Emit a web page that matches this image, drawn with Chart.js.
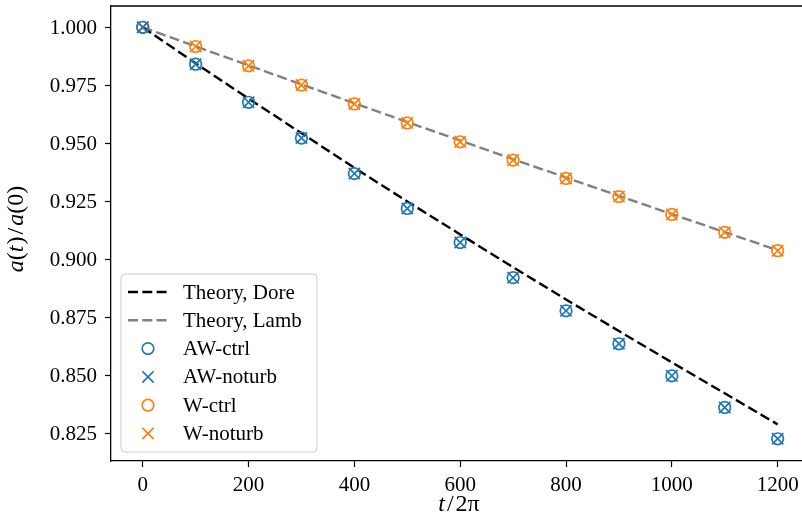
<!DOCTYPE html>
<html lang="en">
<head>
<meta charset="UTF-8">
<title>Amplitude decay a(t)/a(0)</title>
<script src="https://cdn.jsdelivr.net/npm/chart.js"></script>
<style>
  body { margin: 0; background: #fff; }
  .chart-container { width: 802px; height: 528px; }
</style>
</head>
<body>
<div class="chart-container"><canvas id="decayChart"></canvas></div>
<script>
// t / 2pi sample times
const times = [0, 100, 200, 300, 400, 500, 600, 700, 800, 900, 1000, 1100, 1200];

// theory curves
const doreTheory = [1.000, 0.9845, 0.9693, 0.9544, 0.9395, 0.9250, 0.9108, 0.8967, 0.8828, 0.8692, 0.8557, 0.8424, 0.8290];
const lambTheory = [1.000, 0.9918, 0.9836, 0.9754, 0.9673, 0.9592, 0.9512, 0.9432, 0.9353, 0.9274, 0.9196, 0.9118, 0.9040];

// simulation runs
const awCtrl   = [1.000, 0.9841, 0.9677, 0.9523, 0.9370, 0.9220, 0.9073, 0.8922, 0.8779, 0.8637, 0.8499, 0.8363, 0.8228];
const awNoturb = [1.000, 0.9841, 0.9677, 0.9523, 0.9370, 0.9220, 0.9073, 0.8922, 0.8779, 0.8637, 0.8499, 0.8363, 0.8228];
const wCtrl    = [1.000, 0.9917, 0.9834, 0.9751, 0.9670, 0.9588, 0.9507, 0.9428, 0.9349, 0.9271, 0.9194, 0.9117, 0.9038];
const wNoturb  = [1.000, 0.9917, 0.9834, 0.9751, 0.9670, 0.9588, 0.9507, 0.9428, 0.9349, 0.9271, 0.9194, 0.9117, 0.9038];

const xTicks = [0, 200, 400, 600, 800, 1000, 1200];
const yTicks = [0.825, 0.850, 0.875, 0.900, 0.925, 0.950, 0.975, 1.000];

const BLUE = '#1f77b4';
const ORANGE = '#ff7f0e';
const SERIF = "'Liberation Serif', 'Times New Roman', serif";

const pts = ys => times.map((t, i) => ({ x: t, y: ys[i] }));

function lineSet(label, ys, color) {
    return {
        label, data: pts(ys), showLine: true, borderColor: color,
        borderWidth: 2.4, borderDash: [10, 4.3], pointRadius: 0, order: 10,
        kind: 'line'
    };
}
function markerSet(label, ys, color, style, radius) {
    return {
        label, data: pts(ys), showLine: false, pointStyle: style,
        pointRadius: radius, pointHoverRadius: radius,
        pointBorderColor: color, pointBackgroundColor: 'rgba(0,0,0,0)',
        pointBorderWidth: 1.7, borderColor: color, order: 1, kind: 'marker'
    };
}

// draw text made of upright / italic pieces, centred on (0,0)
// each piece: [text, font style, extra space after]
function mixedText(ctx, parts, size) {
    let widths = parts.map(p => { ctx.font = `${p[1]} ${size}px ${SERIF}`; return ctx.measureText(p[0]).width + (p[2] || 0); });
    let total = widths.reduce((a, b) => a + b, 0);
    let x = -total / 2;
    ctx.textBaseline = 'middle';
    ctx.textAlign = 'left';
    parts.forEach((p, i) => {
        ctx.font = `${p[1]} ${size}px ${SERIF}`;
        ctx.fillText(p[0], x, 0);
        x += widths[i];
    });
}

function roundRect(ctx, x, y, w, h, r) {
    ctx.beginPath();
    ctx.moveTo(x + r, y);
    ctx.arcTo(x + w, y, x + w, y + h, r);
    ctx.arcTo(x + w, y + h, x, y + h, r);
    ctx.arcTo(x, y + h, x, y, r);
    ctx.arcTo(x, y, x + w, y, r);
    ctx.closePath();
}

const framePlugin = {
    id: 'frame',
    afterDraw(chart) {
        const ctx = chart.ctx;
        const ca = chart.chartArea;
        const xs = chart.scales.x, ys = chart.scales.y;
        ctx.save();
        // top spine
        ctx.strokeStyle = '#000';
        ctx.lineWidth = 1.3;
        ctx.beginPath();
        ctx.moveTo(ca.left, ca.top);
        ctx.lineTo(chart.width, ca.top);
        ctx.stroke();

        // tick labels
        ctx.fillStyle = '#000';
        ctx.font = `21px ${SERIF}`;
        ctx.textBaseline = 'middle';
        ctx.textAlign = 'center';
        xTicks.forEach(v => ctx.fillText(String(v), xs.getPixelForValue(v), ca.bottom + 24));
        ctx.textAlign = 'right';
        yTicks.forEach(v => ctx.fillText(v.toFixed(3), ca.left - 14, ys.getPixelForValue(v) + 1));

        // axis titles
        ctx.save();
        ctx.translate(459, 505);
        mixedText(ctx, [['t', 'italic', 2], ['/', 'normal', 2], ['2\u03c0', 'normal']], 24);
        ctx.restore();
        ctx.save();
        ctx.translate(17, 229);
        ctx.rotate(-Math.PI / 2);
        mixedText(ctx, [['a', 'italic'], ['(', 'normal'], ['t', 'italic', 1], [')', 'normal', 2], ['/', 'normal', 2],
                        ['a', 'italic'], ['(0)', 'normal']], 24);
        ctx.restore();

        // legend box
        const bw = 196, bh = 178;
        const bx = ca.left + 10, by = ca.bottom - 9 - bh;
        roundRect(ctx, bx, by, bw, bh, 4);
        ctx.fillStyle = 'rgba(255,255,255,0.8)';
        ctx.fill();
        ctx.strokeStyle = '#cccccc';
        ctx.lineWidth = 1;
        ctx.stroke();

        chart.data.datasets.forEach((ds, i) => {
            const cy = by + 18 + i * 28.3;
            ctx.save();
            if (ds.kind === 'line') {
                ctx.strokeStyle = ds.borderColor;
                ctx.lineWidth = ds.borderWidth;
                ctx.setLineDash(ds.borderDash);
                ctx.beginPath();
                ctx.moveTo(bx + 7, cy);
                ctx.lineTo(bx + 47, cy);
                ctx.stroke();
            } else {
                ctx.strokeStyle = ds.pointBorderColor;
                ctx.fillStyle = 'rgba(0,0,0,0)';
                ctx.lineWidth = ds.pointBorderWidth;
                Chart.helpers.drawPoint(ctx, {
                    pointStyle: ds.pointStyle, radius: ds.pointRadius, borderWidth: ds.pointBorderWidth
                }, bx + 27, cy);
            }
            ctx.restore();
            ctx.fillStyle = '#000';
            ctx.font = `21px ${SERIF}`;
            ctx.textAlign = 'left';
            ctx.textBaseline = 'middle';
            ctx.fillText(ds.label, bx + 62, cy + 1);
        });
        ctx.restore();
    }
};

new Chart(document.getElementById('decayChart'), {
    type: 'scatter',
    data: {
        datasets: [
            lineSet('Theory, Dore', doreTheory, '#000000'),
            lineSet('Theory, Lamb', lambTheory, '#808080'),
            markerSet('AW-ctrl', awCtrl, BLUE, 'circle', 5.8),
            markerSet('AW-noturb', awNoturb, BLUE, 'crossRot', 8),
            markerSet('W-ctrl', wCtrl, ORANGE, 'circle', 5.8),
            markerSet('W-noturb', wNoturb, ORANGE, 'crossRot', 8)
        ]
    },
    options: {
        responsive: true,
        maintainAspectRatio: false,
        animation: false,
        layout: { autoPadding: false, padding: { top: 6, right: 0, left: 0, bottom: 0 } },
        plugins: { legend: { display: false }, tooltip: { enabled: false } },
        scales: {
            x: {
                type: 'linear', min: -60, max: 1246,
                afterBuildTicks: s => { s.ticks = xTicks.map(v => ({ value: v })); },
                afterFit: s => { s.height = 67; },
                border: { display: true, color: '#000', width: 1.3 },
                grid: { display: true, drawOnChartArea: false, drawTicks: true, tickLength: 6, color: '#000', tickWidth: 1.2 },
                ticks: { display: false }
            },
            y: {
                type: 'linear', min: 0.81324, max: 1.00917,
                afterBuildTicks: s => { s.ticks = yTicks.map(v => ({ value: v })); },
                afterFit: s => { s.width = 111; },
                border: { display: true, color: '#000', width: 1.3 },
                grid: { display: true, drawOnChartArea: false, drawTicks: true, tickLength: 6, color: '#000', tickWidth: 1.2 },
                ticks: { display: false }
            }
        }
    },
    plugins: [framePlugin]
});
</script>
</body>
</html>
